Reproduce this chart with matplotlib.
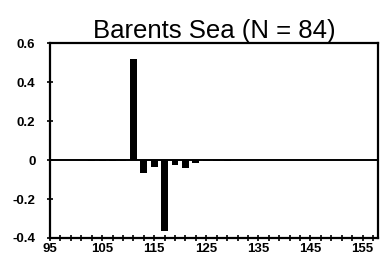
import matplotlib.pyplot as plt
import numpy as np

# bar positions and values
positions = [97, 99, 101, 103, 105, 107, 109, 111, 113, 115, 117, 119, 121, 123, 125, 127, 129]
values = [0.002, 0.0, 0.002, -0.004, -0.006, -0.005, -0.004, 0.52, -0.066, -0.035, -0.362,
          -0.026, -0.04, -0.017, -0.003, -0.002, -0.002]
xtick_labels = [95, 105, 115, 125, 135, 145, 155]
ytick_values = [-0.4, -0.2, 0, 0.2, 0.4, 0.6]

plt.rcParams['font.family'] = ['Liberation Sans', 'DejaVu Sans']

fig = plt.figure(figsize=(3.82, 2.57), dpi=100)
ax = fig.add_axes([0.131, 0.074, 0.859, 0.757])

ax.bar(positions, values, width=1.3, color='black')
ax.axhline(0, color='black', lw=1.4)

ax.set_xlim(95, 158)
ax.set_ylim(-0.4, 0.6)
ax.set_xticks(xtick_labels)
ax.set_xticklabels([str(v) for v in xtick_labels], fontsize=9.5, fontweight='bold')
ax.set_xticks(np.arange(95, 159, 2), minor=True)
ax.set_yticks(ytick_values)
ax.set_yticklabels(['-0.4', '-0.2', '0', '0.2', '0.4', '0.6'], fontsize=9.5, fontweight='bold')

ax.tick_params(which='both', direction='inout', length=5, width=1.2)
ax.tick_params(which='minor', length=4)
ax.tick_params(axis='x', pad=1)
ax.tick_params(axis='y', pad=8)
for s in ax.spines.values():
    s.set_linewidth(1.6)

ax.set_title("Barents Sea (N = 84)", fontsize=18.5, pad=4)

plt.savefig("out.png", dpi=100)
